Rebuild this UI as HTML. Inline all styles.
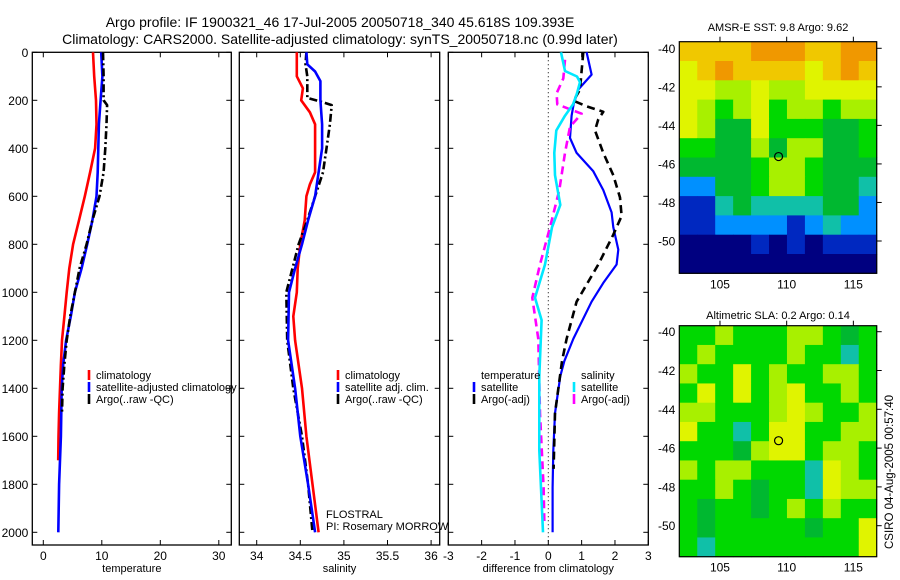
<!DOCTYPE html>
<html><head><meta charset="utf-8"><style>
body{margin:0;background:#fff}
svg{display:block;font-family:"Liberation Sans",sans-serif}
</style></head><body>
<svg id="fig" width="900" height="580" viewBox="0 0 900 580">
<rect width="900" height="580" fill="#fff"/>
<text x="340" y="27" text-anchor="middle" font-size="14">Argo profile: IF 1900321_46 17-Jul-2005 20050718_340 45.618S 109.393E</text>
<text x="340" y="44" text-anchor="middle" font-size="14">Climatology: CARS2000. Satellite-adjusted climatology: synTS_20050718.nc (0.99d later)</text>
<g id="g"></g>
</svg>
<script>
// ---------- data ----------
const depthTicks=[0,200,400,600,800,1000,1200,1400,1600,1800,2000];
const tempTicks=[0,10,20,30];
const salTicks=[34,34.5,35,35.5,36];
const diffTicks=[-3,-2,-1,0,1,2,3];
const lonTicks=[105,110,115];
const latTicks=[-40,-42,-44,-46,-48,-50];

const tClimDepth=[0,100,200,300,400,500,600,700,800,900,1000,1100,1200,1300,1400,1500,1600,1700];
const tClim=[8.5,8.7,9.0,9.1,8.85,8.0,7.1,6.1,5.1,4.45,4.0,3.6,3.2,3.0,2.85,2.7,2.6,2.55];
const tSatDepth=[0,100,200,300,400,500,600,700,800,900,1000,1100,1200,1300,1400,1600,1800,2000];
const tSat=[9.9,10.1,9.8,9.5,9.4,9.3,9.1,8.4,7.5,6.55,5.4,4.7,3.9,3.4,3.15,3.0,2.7,2.57];
const tArgoDepth=[0,100,200,220,300,400,500,600,700,800,900,1000,1100,1200,1300,1400,1500];
const tArgo=[10.2,10.3,10.3,10.9,10.8,10.6,10.3,9.6,8.4,7.4,6.2,5.4,4.6,4.0,3.6,3.3,3.2];

const sClimDepth=[0,100,150,200,250,300,400,500,550,600,700,800,900,1000,1100,1200,1400,1600,1800,2000];
const sClim=[34.46,34.46,34.53,34.51,34.61,34.67,34.67,34.67,34.61,34.57,34.55,34.5,34.47,34.46,34.42,34.44,34.52,34.57,34.64,34.71];
const sSatDepth=[0,50,80,120,200,300,400,500,600,700,800,900,1000,1200,1400,1600,1800,2000];
const sSat=[34.57,34.58,34.67,34.73,34.73,34.75,34.75,34.71,34.67,34.59,34.52,34.44,34.37,34.36,34.44,34.5,34.59,34.67];
const sArgoDepth=[0,50,100,190,205,220,300,400,500,600,700,800,900,1000,1200,1400,1600,1800,2000];
const sArgo=[34.57,34.56,34.58,34.58,34.73,34.86,34.84,34.8,34.76,34.67,34.58,34.48,34.41,34.34,34.35,34.42,34.52,34.59,34.64];

const dTSatDepth=[0,93,155,217,264,357,419,496,574,667,729,822,884,961,1039,1194,1287,1349,1504,1659,1814,2000];
const dTSat=[1.15,1.3,0.9,0.76,0.7,0.65,0.85,1.35,1.65,1.9,1.95,2.1,2.05,1.65,1.3,0.75,0.48,0.36,0.2,0.15,0.13,0.13];
const dTArgoDepth=[0,78,155,202,225,248,279,326,419,512,605,682,760,884,1039,1194,1287,1504,1736];
const dTArgo=[1.05,1.0,0.95,0.76,1.15,1.65,1.5,1.4,1.65,1.95,2.15,2.2,1.95,1.5,0.85,0.55,0.41,0.2,0.16];
const dSSatDepth=[0,78,101,124,171,217,264,326,419,512,636,729,884,1023,1116,1349,1659,2000];
const dSSat=[0.38,0.5,0.86,0.95,0.86,0.74,0.5,0.24,0.18,0.2,0.36,0.11,-0.1,-0.4,-0.2,-0.27,-0.27,-0.16];
const dSArgoDepth=[31,109,171,217,240,256,310,419,574,729,884,1023,1194,1504,1814,1953];
const dSArgo=[0.5,0.45,0.25,0.27,0.7,1.0,0.65,0.5,0.33,0.05,-0.25,-0.48,-0.3,-0.25,-0.14,-0.12];

const palette=['#000080','#0028c0','#0090ff','#10c0a8','#00b830','#00d800','#a8f000','#e0f400','#f0c800','#f09800'];
const sstGrid=[
[8,8,8,8,9,9,9,8,8,9,9],
[7,8,9,8,8,8,8,7,8,9,8],
[7,7,6,6,7,6,6,7,7,7,7],
[7,6,5,6,7,5,6,6,5,6,6],
[7,6,4,4,7,5,5,5,4,4,5],
[5,5,4,4,6,4,6,6,4,4,5],
[4,4,4,4,5,6,6,5,4,4,4],
[2,2,4,4,5,6,6,5,4,4,3],
[1,1,3,4,3,3,3,3,4,4,2],
[1,1,2,2,2,2,1,2,3,2,2],
[0,0,0,0,1,0,1,0,1,1,1],
[0,0,0,0,0,0,0,0,0,0,0]];
const slaGrid=[
[5,5,6,5,5,5,6,6,5,4,5],
[5,6,5,5,5,5,6,5,5,3,5],
[6,5,5,7,5,6,5,5,6,6,5],
[5,7,5,7,5,6,7,5,5,6,5],
[6,6,5,5,5,6,7,6,5,5,6],
[7,5,5,3,5,7,7,5,5,6,6],
[5,5,5,4,6,7,7,5,6,6,5],
[6,5,6,6,5,5,5,3,7,6,5],
[5,5,6,5,4,5,5,3,7,6,6],
[5,4,5,5,4,5,6,5,6,5,5],
[5,4,5,5,5,5,5,4,5,5,7],
[5,3,5,5,5,5,5,5,5,5,7]];
const argoLon=109.393, argoLat=-45.618;

// ---------- drawing ----------
const NS='http://www.w3.org/2000/svg';
const G=document.getElementById('g');
function el(tag,attrs,parent){const e=document.createElementNS(NS,tag);for(const k in attrs)e.setAttribute(k,attrs[k]);(parent||G).appendChild(e);return e;}
const yTop=52.3,yBot=545;
const yD=d=>yTop+d*0.24;
function panel(x0,x1,xmin,xmax,ticks,label,name,showY){
  const xs=v=>x0+(v-xmin)/(xmax-xmin)*(x1-x0);
  const g=el('g',{});
  
  
  const r=el('rect',{x:x0,y:yTop,width:x1-x0,height:yBot-yTop,fill:'none',stroke:'#000','stroke-width':1.3},g);
  
  
  depthTicks.forEach(d=>{
    el('line',{x1:x0,x2:x0+5,y1:yD(d),y2:yD(d),stroke:'#000'},g);
    el('line',{x1:x1-5,x2:x1,y1:yD(d),y2:yD(d),stroke:'#000'},g);
    if(showY){const t=el('text',{x:x0-4,y:yD(d)+4.5,'text-anchor':'end','font-size':12},g);t.textContent=d;
      
      }
  });
  ticks.forEach(v=>{
    el('line',{x1:xs(v),x2:xs(v),y1:yTop,y2:yTop+5,stroke:'#000'},g);
    el('line',{x1:xs(v),x2:xs(v),y1:yBot-5,y2:yBot,stroke:'#000'},g);
    const t=el('text',{x:xs(v),y:yBot+15,'text-anchor':'middle','font-size':12},g);t.textContent=v;
    
    
  });
  const t=el('text',{x:(x0+x1)/2,y:572,'text-anchor':'middle','font-size':11},g);t.textContent=label;
  
  
  return {xs,g};
}
function line(p,depths,vals,color,dash,w,name){
  const pts=depths.map((d,i)=>p.xs(vals[i]).toFixed(1)+','+yD(d).toFixed(1)).join(' ');
  const l=el('polyline',{points:pts,fill:'none',stroke:color,'stroke-width':w||2.6,'stroke-dasharray':dash||'none','stroke-linejoin':'round'},p.g);
  
  
}
function legend(g,x,y,color,text,name){
  el('line',{x1:x,x2:x,y1:y-6,y2:y+4,stroke:color,'stroke-width':2.6},g);
  const t=el('text',{x:x+7,y:y+3,'font-size':11,'textLength':null},g);t.removeAttribute('textLength');t.textContent=text;
  
  
}
const p1=panel(32.3,231.3,(32.3-43.3)/5.85,(231.3-43.3)/5.85,tempTicks,'temperature','temperature-panel',true);
line(p1,tClimDepth,tClim,'#ff0000',null,2.6,'temp-climatology-line');
line(p1,tSatDepth,tSat,'#0000ff',null,2.6,'temp-satellite-line');
line(p1,tArgoDepth,tArgo,'#000',"8,3,2,3",2.6,'temp-argo-line');
legend(p1.g,89,376,'#ff0000','climatology','legend-climatology');
legend(p1.g,89,388,'#0000ff','satellite-adjusted climatology','legend-satellite');
legend(p1.g,89,400,'#000','Argo(..raw -QC)','legend-argo');

const p2=panel(239.3,439.7,34+(239.3-256.7)/87.2,34+(439.7-256.7)/87.2,salTicks,'salinity','salinity-panel',false);
line(p2,sClimDepth,sClim,'#ff0000',null,2.6,'sal-climatology-line');
line(p2,sArgoDepth,sArgo,'#000',"8,3,2,3",2.6,'sal-argo-line');
line(p2,sSatDepth,sSat,'#0000ff',null,2.6,'sal-satellite-line');
legend(p2.g,338,376,'#ff0000','climatology','legend-sal-climatology');
legend(p2.g,338,388,'#0000ff','satellite adj. clim.','legend-sal-satellite');
legend(p2.g,338,400,'#000','Argo(..raw -QC)','legend-sal-argo');
[['FLOSTRAL',518],['PI: Rosemary MORROW',530]].forEach(([s,y])=>{const t=el('text',{x:326,y:y,'font-size':11},p2.g);t.textContent=s;
  
  });

const p3=panel(448.3,648.3,-3,3,diffTicks,'difference from climatology','difference-panel',false);
el('line',{x1:p3.xs(0),x2:p3.xs(0),y1:yTop,y2:yBot,stroke:'#000','stroke-width':1,'stroke-dasharray':'1,3'},p3.g);
line(p3,dTSatDepth,dTSat,'#0000ff',null,2.2,'diff-temp-satellite-line');
line(p3,dTArgoDepth,dTArgo,'#000',"8,5",2.6,'diff-temp-argo-line');
line(p3,dSArgoDepth,dSArgo,'#ff00ff',"8,5",2.6,'diff-sal-argo-line');
line(p3,dSSatDepth,dSSat,'#00e8ff',null,2.6,'diff-sal-satellite-line');
{const t=el('text',{x:481,y:379,'font-size':11},p3.g);t.textContent='temperature';
 
 
 const s=el('text',{x:581,y:379,'font-size':11},p3.g);s.textContent='salinity';
 
 }
legend(p3.g,474,388,'#0000ff','satellite','legend-diff-temp-satellite');
legend(p3.g,474,400,'#000','Argo(-adj)','legend-diff-temp-argo');
legend(p3.g,574,388,'#00e8ff','satellite','legend-diff-sal-satellite');
legend(p3.g,574,400,'#ff00ff','Argo(-adj)','legend-diff-sal-argo');

function map(y0,y1,lat40,lat50,grid,title,titleY,name){
  const x0=679.3,x1=876.7,lonMin=101.95,lonMax=116.75;
  const xs=v=>x0+(v-lonMin)/(lonMax-lonMin)*(x1-x0);
  const ys=v=>lat40+(v+40)/(-10)*(lat50-lat40);
  const latTop=-40+(y0-lat40)/(lat50-lat40)*-10, latBot=-40+(y1-lat40)/(lat50-lat40)*-10;
  const g=el('g',{});
  
  
  const R=grid.length,C=grid[0].length;
  for(let r=0;r<R;r++)for(let c=0;c<C;c++){
    const la=latTop+(latBot-latTop)*r/R, la2=latTop+(latBot-latTop)*(r+1)/R;
    const lo=lonMin+(lonMax-lonMin)*c/C, lo2=lonMin+(lonMax-lonMin)*(c+1)/C;
    const cell=el('rect',{x:xs(lo),y:ys(la),width:xs(lo2)-xs(lo)+0.5,height:ys(la2)-ys(la)+0.5,fill:palette[grid[r][c]]},g);
    
    
  }
  el('rect',{x:x0,y:y0,width:x1-x0,height:y1-y0,fill:'none',stroke:'#000','stroke-width':1.2},g);
  const c=el('circle',{cx:xs(argoLon),cy:ys(argoLat),r:4,fill:'none',stroke:'#000','stroke-width':1.2},g);
  
  
  lonTicks.forEach(v=>{el('line',{x1:xs(v),x2:xs(v),y1:y0-5,y2:y0,stroke:'#000'},g);
    const t=el('text',{x:xs(v),y:y1+15,'text-anchor':'middle','font-size':12},g);t.textContent=v;
    
    });
  latTicks.forEach(v=>{el('line',{x1:x1,x2:x1+5,y1:ys(v),y2:ys(v),stroke:'#000'},g);
    const t=el('text',{x:x0-4,y:ys(v)+4.5,'text-anchor':'end','font-size':12},g);t.textContent=v;
    
    });
  const t=el('text',{x:(x0+x1)/2,y:titleY,'text-anchor':'middle','font-size':11},g);t.textContent=title;
  
  
}
map(41.7,273.3,48.3,241,sstGrid,'AMSR-E SST: 9.8 Argo: 9.62',31,'sst-map');
map(325.7,556.7,331.7,525.7,slaGrid,'Altimetric SLA: 0.2 Argo: 0.14',319,'sla-map');
{const t=el('text',{x:0,y:0,'text-anchor':'middle','font-size':11.5,transform:'translate(893,472) rotate(-90)'});t.textContent='CSIRO 04-Aug-2005 00:57:40';
 
 }
</script>
</body></html>
